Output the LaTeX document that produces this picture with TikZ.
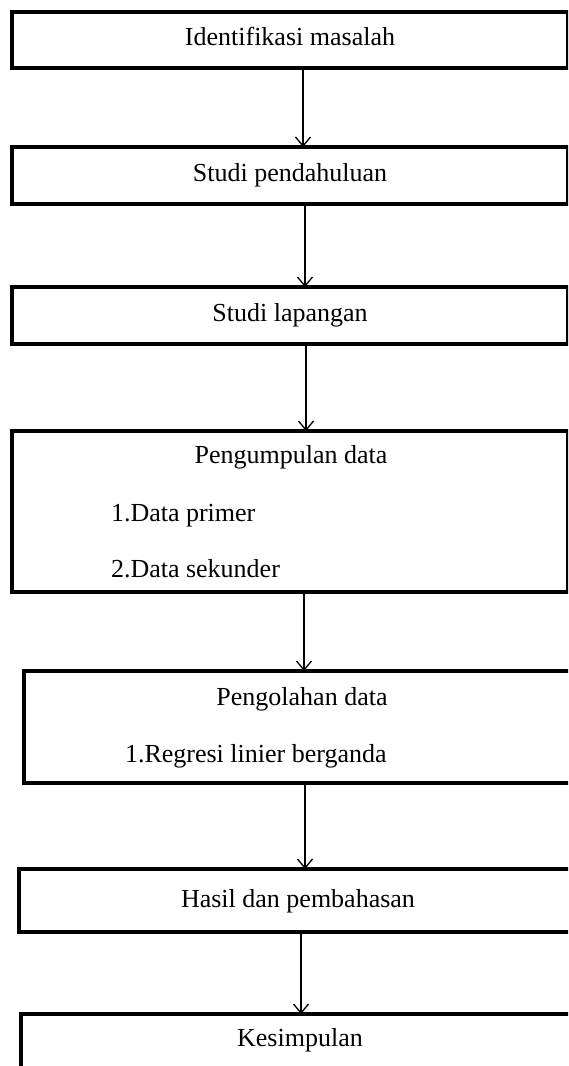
\documentclass[tikz,border=0pt]{standalone}
\usepackage{fontspec}
\setmainfont{Liberation Serif}
\usetikzlibrary{arrows.meta}
\tikzset{
  box/.style={draw=black, line width=3.3pt, fill=white, rectangle, inner sep=0pt, outer sep=0pt, anchor=north west},
  txt/.style={inner sep=0pt, outer sep=0pt, font=\fontsize{26}{30}\selectfont},
  arr/.style={draw=black, line width=1.3pt, -{Straight Barb[length=9pt,width=15pt,line width=1.3pt]}}
}
\begin{document}
\begin{tikzpicture}[x=1pt,y=-1pt]
\clip (0,0) rectangle (568,1066);
\fill[white] (0,0) rectangle (568,1066);
% boxes
\node[box, minimum width=556pt, minimum height=56pt] (b1) at (12,12) {};
\node[box, minimum width=556pt, minimum height=57pt] (b2) at (12,147) {};
\node[box, minimum width=556pt, minimum height=57pt] (b3) at (12,287) {};
\node[box, minimum width=556pt, minimum height=161pt] (b4) at (12,431) {};
\node[box, minimum width=556pt, minimum height=112pt] (b5) at (24,671) {};
\node[box, minimum width=561pt, minimum height=63pt] (b6) at (19,869) {};
\node[box, minimum width=559pt, minimum height=80pt] (b7) at (21,1014) {};
% texts
\node[txt, anchor=base] (t1) at (290,45) {Identifikasi masalah};
\node[txt, anchor=base] (t2) at (290,181) {Studi pendahuluan};
\node[txt, anchor=base] (t3) at (290,321) {Studi lapangan};
\node[txt, anchor=base] (t4) at (291,463) {Pengumpulan data};
\node[txt, anchor=base west] (t4a) at (111,521) {1.Data primer};
\node[txt, anchor=base west] (t4b) at (111,577) {2.Data sekunder};
\node[txt, anchor=base] (t5) at (302,705) {Pengolahan data};
\node[txt, anchor=base west] (t5a) at (125,762) {1.Regresi linier berganda};
\node[txt, anchor=base] (t6) at (298,907) {Hasil dan pembahasan};
\node[txt, anchor=base] (t7) at (300,1046) {Kesimpulan};
% connectors
\draw[arr] ([xshift=13pt]b1.south) -- ([xshift=13pt]b1.south |- b2.north);
\draw[arr] ([xshift=15pt]b2.south) -- ([xshift=15pt]b2.south |- b3.north);
\draw[arr] ([xshift=16pt]b3.south) -- ([xshift=16pt]b3.south |- b4.north);
\draw[arr] ([xshift=14pt]b4.south) -- ([xshift=14pt]b4.south |- b5.north);
\draw[arr] ([xshift=3pt]b5.south) -- ([xshift=3pt]b5.south |- b6.north);
\draw[arr] ([xshift=1.5pt]b6.south) -- ([xshift=1.5pt]b6.south |- b7.north);
\end{tikzpicture}
\end{document}
